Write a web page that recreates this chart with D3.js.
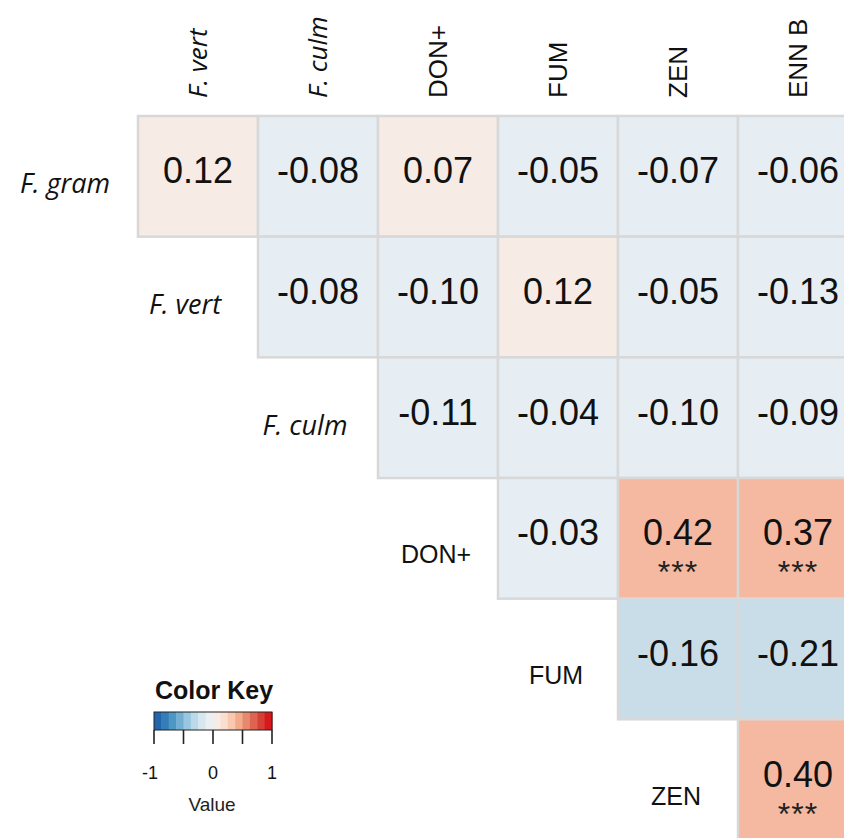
<!DOCTYPE html>
<html>
<head>
<meta charset="utf-8">
<script src="https://cdn.jsdelivr.net/npm/d3@7/dist/d3.min.js"></script>
<style>
  html, body { margin: 0; padding: 0; background: #fff; }
  svg { display: block; }
</style>
</head>
<body>
<svg id="chart" width="844" height="838"></svg>
<script>
// Pairwise correlations: Fusarium species and mycotoxins (upper triangle)
const rowNames = ["F. gram", "F. vert", "F. culm", "DON+", "FUM", "ZEN"];
const colNames = ["F. vert", "F. culm", "DON+", "FUM", "ZEN", "ENN B"];
const italicNames = ["F. gram", "F. vert", "F. culm"];

// one array per row, starting at the diagonal column
const corrFGram = [0.12, -0.08, 0.07, -0.05, -0.07, -0.06];
const corrFVert = [-0.08, -0.10, 0.12, -0.05, -0.13];
const corrFCulm = [-0.11, -0.04, -0.10, -0.09];
const corrDON   = [-0.03, 0.42, 0.37];
const corrFUM   = [-0.16, -0.21];
const corrZEN   = [0.40];

// significance marks, aligned with the value arrays
const sigFGram = ["", "", "", "", "", ""];
const sigFVert = ["", "", "", "", ""];
const sigFCulm = ["", "", "", ""];
const sigDON   = ["", "***", "***"];
const sigFUM   = ["", ""];
const sigZEN   = ["***"];

const keyTicks = [-1, -0.5, 0, 0.5, 1];
const keyLabels = [-1, 0, 1];
const keySteps = 16;

const rowValues = [corrFGram, corrFVert, corrFCulm, corrDON, corrFUM, corrZEN];
const rowSig = [sigFGram, sigFVert, sigFCulm, sigDON, sigFUM, sigZEN];

const cells = [];
rowNames.forEach((r, i) => {
  rowValues[i].forEach((v, k) => {
    cells.push({ row: r, col: colNames[i + k], value: v, sig: rowSig[i][k] });
  });
});

// plain hyphen for negatives
const fmt = v => d3.format(".2f")(v).replace("\u2212", "-");

const svg = d3.select("#chart");

const x = d3.scaleBand().domain(colNames).range([138, 858]);
const y = d3.scaleBand().domain(rowNames).range([116, 840]);

// muted fill per correlation band
const fill = d3.scaleThreshold()
  .domain([-0.15, 0, 0.25])
  .range(["#c9dde9", "#e6eef3", "#f6ebe5", "#f4b9a0"]);

const numFont = "'Liberation Sans', Arial, sans-serif";
const italFont = "'Open Sans', sans-serif";

const g = svg.append("g");

g.selectAll("rect.cell")
  .data(cells)
  .join("rect")
  .attr("class", "cell")
  .attr("x", d => x(d.col))
  .attr("y", d => y(d.row))
  .attr("width", x.bandwidth())
  .attr("height", y.bandwidth())
  .attr("fill", d => fill(d.value))
  .attr("stroke", "#d8d8d8")
  .attr("stroke-width", 2.5);

g.selectAll("text.val")
  .data(cells)
  .join("text")
  .attr("class", "val")
  .attr("x", d => x(d.col) + x.bandwidth() / 2)
  .attr("y", d => y(d.row) + y.bandwidth() / 2 + 7)
  .attr("text-anchor", "middle")
  .attr("font-family", numFont)
  .attr("font-size", 36)
  .attr("fill", "#111")
  .text(d => fmt(d.value));

g.selectAll("text.sig")
  .data(cells.filter(d => d.sig))
  .join("text")
  .attr("class", "sig")
  .attr("x", d => x(d.col) + x.bandwidth() / 2)
  .attr("y", d => y(d.row) + y.bandwidth() / 2 + 45)
  .attr("text-anchor", "middle")
  .attr("font-family", numFont)
  .attr("font-size", 32)
  .attr("letter-spacing", 1)
  .attr("fill", "#222")
  .text(d => d.sig);

// column headers, rotated
g.selectAll("text.colLab")
  .data(colNames)
  .join("text")
  .attr("class", "colLab")
  .attr("transform", d => `translate(${x(d) + x.bandwidth() / 2},98) rotate(-90)`)
  .attr("dy", "0.36em")
  .attr("text-anchor", "start")
  .attr("font-family", d => italicNames.includes(d) ? italFont : numFont)
  .attr("font-style", d => italicNames.includes(d) ? "italic" : "normal")
  .attr("font-size", 26)
  .attr("fill", "#111")
  .text(d => d);

// row labels sit in the empty cell left of the diagonal
g.selectAll("text.rowLab")
  .data(rowNames)
  .join("text")
  .attr("class", "rowLab")
  .attr("x", (d, i) => x(colNames[0]) + (i - 0.5) * x.bandwidth() - (italicNames.includes(d) ? 13 : 2))
  .attr("y", d => y(d) + y.bandwidth() / 2 + (italicNames.includes(d) ? 17 : 25))
  .attr("text-anchor", "middle")
  .attr("font-family", d => italicNames.includes(d) ? italFont : numFont)
  .attr("font-style", d => italicNames.includes(d) ? "italic" : "normal")
  .attr("font-size", d => italicNames.includes(d) ? 27 : 25)
  .attr("fill", "#111")
  .text(d => d);

// colour key
const key = svg.append("g");
const kx = d3.scaleLinear().domain([-1, 1]).range([154, 272]);
const keyColor = d3.interpolateRgbBasis(["#2166ac", "#4393c3", "#92c5de", "#d1e5f0", "#f7f7f7", "#fddbc7", "#f4a582", "#d6604d", "#d7191c"]);
const stepEdges = d3.range(keySteps).map(i => -1 + i * 2 / keySteps);

key.append("text")
  .attr("x", 214).attr("y", 699)
  .attr("text-anchor", "middle")
  .attr("font-family", numFont)
  .attr("font-weight", "bold")
  .attr("font-size", 25)
  .attr("fill", "#111")
  .text("Color Key");

key.selectAll("rect.step")
  .data(stepEdges)
  .join("rect")
  .attr("class", "step")
  .attr("x", d => kx(d))
  .attr("y", 712)
  .attr("width", kx(2 / keySteps) - kx(0) + 0.5)
  .attr("height", 18)
  .attr("fill", (d, i) => keyColor(i / (keySteps - 1)));

key.append("rect")
  .attr("x", kx(-1)).attr("y", 712)
  .attr("width", kx(1) - kx(-1)).attr("height", 18)
  .attr("fill", "none").attr("stroke", "#222").attr("stroke-width", 1);

key.selectAll("line.tick")
  .data(keyTicks)
  .join("line")
  .attr("class", "tick")
  .attr("x1", d => kx(d)).attr("x2", d => kx(d))
  .attr("y1", 730).attr("y2", 744)
  .attr("stroke", "#222").attr("stroke-width", 1.6);

key.selectAll("text.klab")
  .data(keyLabels)
  .join("text")
  .attr("class", "klab")
  .attr("x", d => kx(d) - (d < 0 ? 4 : 0))
  .attr("y", 779)
  .attr("text-anchor", "middle")
  .attr("font-family", numFont)
  .attr("font-size", 18)
  .attr("fill", "#111")
  .text(d => String(d));

key.append("text")
  .attr("x", 212).attr("y", 811)
  .attr("text-anchor", "middle")
  .attr("font-family", numFont)
  .attr("font-size", 19)
  .attr("fill", "#222")
  .text("Value");
</script>
</body>
</html>
